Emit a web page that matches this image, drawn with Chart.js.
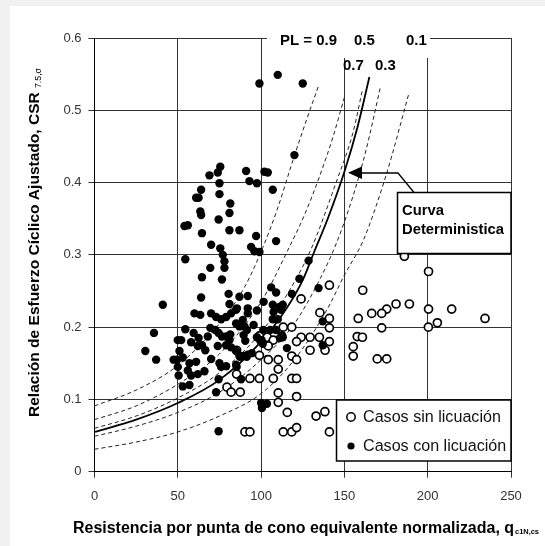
<!DOCTYPE html>
<html>
<head>
<meta charset="utf-8">
<script src="https://cdn.jsdelivr.net/npm/chart.js@4"></script>
<style>
  html, body { margin: 0; padding: 0; background: #f1f1f1; }
  #wrap { position: absolute; left: 0; top: 0; width: 545px; height: 546px; }
</style>
</head>
<body>
<div id="wrap"><canvas id="grafico" width="545" height="546"></canvas></div>
<script>
// ticks
const xTicks = [0, 50, 100, 150, 200, 250];
const yTicks = [0, 0.1, 0.2, 0.3, 0.4, 0.5, 0.6];

// casos con licuación (puntos negros) [q, CSR]
const casosCon = [
  [99,0.537],[110,0.549],[125,0.537],[120,0.438],
  [69,0.410],[74,0.414],[75.5,0.422],[91,0.416],[102,0.415],[104,0.414],
  [93,0.402],[97.5,0.399],[107,0.390],[75,0.399],[64,0.390],[61,0.379],[62.5,0.379],[75,0.384],[81.5,0.371],
  [63.5,0.360],[64,0.355],[81,0.358],[74.5,0.349],[54,0.340],[56,0.341],[81,0.334],[87,0.334],[64.5,0.330],
  [97,0.326],[109,0.319],[70,0.314],[94,0.311],[96,0.305],[99,0.304],[75.5,0.309],[77,0.300],[78,0.291],
  [54.5,0.294],[128.5,0.292],[69.5,0.282],[78,0.282],[76.5,0.266],[64.5,0.269],[123,0.267],[134.5,0.254],
  [106,0.255],[109,0.248],[118.5,0.246],[80.5,0.246],[92,0.243],[87,0.242],[64,0.241],[101.5,0.235],
  [41,0.231],[81,0.232],[107,0.231],[111,0.228],[113,0.231],[85.5,0.226],[92,0.226],[97.5,0.223],
  [107.5,0.221],[112,0.224],[60,0.219],[63.5,0.217],[70,0.219],[73,0.214],[76,0.211],[79,0.214],[82,0.219],
  [85,0.224],[92,0.219],[107,0.211],[110,0.211],[89,0.210],[90,0.201],[91.5,0.196],[137,0.208],
  [69.5,0.199],[72.5,0.196],[74.5,0.192],[76.5,0.187],[79,0.187],[81,0.182],[79,0.175],[85,0.205],[87,0.201],
  [95.5,0.203],[54.5,0.197],[35.7,0.192],[59.5,0.192],[62.5,0.185],[64.5,0.175],[66.5,0.168],[50,0.182],[52,0.182],
  [58,0.179],[62,0.174],[68,0.187],[81.5,0.190],[89.5,0.189],[90.5,0.181],[97.5,0.186],[99.5,0.181],[101,0.177],
  [105.5,0.196],[109,0.196],[112.5,0.189],[113,0.186],[115.5,0.171],[137,0.175],[30.5,0.167],[51,0.167],
  [74,0.174],[82,0.172],[85,0.167],[87,0.160],[89.5,0.160],[92,0.162],[47.5,0.155],[37,0.155],[49.5,0.155],
  [53,0.158],[57,0.150],[61,0.152],[70,0.156],[75,0.150],[76,0.145],[79,0.146],[85,0.148],[50,0.145],[50.5,0.133],
  [56,0.140],[58,0.133],[62,0.135],[66,0.139],[74.5,0.128],[88,0.128],[53,0.118],[57,0.120],[73,0.110],
  [87.3,0.159],[91.4,0.159],[94.4,0.164],[85.3,0.145],[101.3,0.196],[100.3,0.182],[111.3,0.185],
  [100,0.095],[103.5,0.094],[100.5,0.088],[74.5,0.056]
];

// casos sin licuación (círculos blancos)
const casosSin = [
  [186,0.298],[200.5,0.277],[161,0.251],[141,0.258],[124,0.239],[181,0.232],[189,0.232],[175.4,0.225],
  [172.4,0.219],[166.4,0.219],[158.3,0.212],[200.5,0.225],[214.4,0.225],[234.4,0.212],[205.8,0.206],
  [200.4,0.200],[172.4,0.199],
  [135.3,0.220],[141,0.212],[141,0.199],[113.3,0.200],[118.4,0.200],[124,0.186],[129.4,0.186],[135,0.186],
  [141,0.180],[121.3,0.180],
  [157.7,0.187],[160.8,0.186],[155.3,0.173],[155.3,0.160],[169.7,0.156],[175.4,0.156],
  [129.4,0.168],[138.4,0.168],[99,0.188],[103.7,0.186],[107.3,0.182],[104.3,0.174],[85.3,0.168],[99,0.161],
  [104.3,0.155],[110.3,0.155],[118.4,0.160],[121.3,0.155],[110.3,0.142],[85.3,0.135],[93.3,0.129],[99,0.129],
  [107.3,0.129],[118.4,0.129],[121.3,0.129],[79.5,0.117],[82,0.110],[87.5,0.110],[110.3,0.109],[110.3,0.096],
  [121.3,0.104],[115.7,0.082],[133,0.077],[138.3,0.083],[90.3,0.055],[93.3,0.055],[113.3,0.055],
  [118.4,0.055],[121.3,0.061],[141,0.055]
];

// curvas
const curvaDet = [[0,0.055],[25,0.072],[50,0.095],[75,0.127],[100,0.18],[115,0.225],[125,0.265],[132,0.305],[140,0.35],[150,0.415],[158,0.478],[165,0.546]];
const pl09 = [[0,0.091],[25,0.113],[50,0.147],[75,0.205],[90,0.255],[101,0.31],[110,0.365],[119,0.43],[127,0.485],[134.5,0.534]];
const pl07 = [[0,0.072],[25,0.091],[50,0.121],[75,0.163],[100,0.235],[117,0.311],[126,0.355],[135,0.408],[143,0.462],[150,0.518]];
const pl05 = [[0,0.060],[25,0.077],[50,0.102],[75,0.137],[100,0.193],[115,0.243],[130,0.308],[145,0.40],[155,0.468],[161,0.53]];
const pl03 = [[0,0.049],[25,0.063],[50,0.082],[75,0.11],[100,0.155],[120,0.205],[135,0.265],[145,0.315],[155,0.38],[163,0.445],[171.7,0.533]];
const pl01 = [[0,0.031],[25,0.041],[50,0.055],[75,0.077],[100,0.108],[120,0.155],[139.5,0.224],[150,0.272],[161.5,0.321],[175,0.41],[188.8,0.524]];

const FONT = "'Liberation Sans', Arial, sans-serif";
const toPts = arr => arr.map(p => ({ x: p[0], y: p[1] }));

function dashed(arr) {
  return {
    data: toPts(arr), showLine: true, pointRadius: 0, borderColor: '#222', borderWidth: 1,
    borderDash: [4, 3], cubicInterpolationMode: 'monotone', fill: false, order: 3
  };
}

// tamaño de letra para que el texto ocupe un ancho dado
function fitFont(c, text, width, weight) {
  c.font = weight + ' 100px ' + FONT;
  const size = 100 * width / c.measureText(text).width;
  c.font = weight + ' ' + size.toFixed(2) + 'px ' + FONT;
  return size;
}

const decor = {
  id: 'decor',
  beforeDraw(chart) {
    const c = chart.ctx;
    c.save();
    c.fillStyle = '#f1f1f1';
    c.fillRect(0, 0, 545, 546);
    c.fillStyle = '#fff';
    c.fillRect(10, 6, 535, 540);
    c.restore();
  },
  afterDraw(chart) {
    const c = chart.ctx;
    c.save();
    // hueco del marco superior para las etiquetas PL
    c.fillStyle = '#fff';
    c.fillRect(267, 28, 163, 30);
    c.fillStyle = '#000';
    c.textBaseline = 'middle';
    c.textAlign = 'left';
    fitFont(c, 'PL = 0.9', 57, 'bold');
    c.fillText('PL = 0.9', 280, 41);
    c.fillText('0.5', 354, 41);
    c.fillText('0.1', 406, 41);
    c.fillText('0.7', 343, 66);
    c.fillText('0.3', 375, 66);

    // caja "Curva Deterministica"
    c.fillStyle = '#fff';
    c.fillRect(397.5, 192.5, 113.5, 61);
    c.strokeStyle = '#000';
    c.lineWidth = 1.5;
    c.strokeRect(397.5, 192.5, 113.5, 61);
    c.fillStyle = '#000';
    fitFont(c, 'Deterministica', 102, 'bold');
    c.fillText('Curva', 402, 211);
    c.fillText('Deterministica', 402, 230);

    // flecha
    c.lineWidth = 1.3;
    c.beginPath();
    c.moveTo(414, 192.5);
    c.lineTo(398, 173);
    c.lineTo(360, 173);
    c.stroke();
    c.beginPath();
    c.moveTo(348, 172.8);
    c.lineTo(362, 166.5);
    c.lineTo(362, 179);
    c.closePath();
    c.fill();

    // leyenda
    c.fillStyle = '#fff';
    c.fillRect(336.5, 400, 174.5, 61);
    c.lineWidth = 1.5;
    c.strokeRect(336.5, 400, 174.5, 61);
    c.beginPath();
    c.arc(351, 417, 4.2, 0, Math.PI * 2);
    c.lineWidth = 1.5;
    c.stroke();
    c.fillStyle = '#000';
    c.beginPath();
    c.arc(351, 446, 3.6, 0, Math.PI * 2);
    c.fill();
    c.fillStyle = '#111';
    fitFont(c, 'Casos sin licuación', 138, 'normal');
    c.fillText('Casos sin licuación', 363, 418);
    c.fillText('Casos con licuación', 363, 447);

    // título eje x con subíndice
    c.fillStyle = '#000';
    const tx = 'Resistencia por punta de cono equivalente normalizada, q';
    fitFont(c, tx, 441, 'bold');
    c.fillText(tx, 73, 529);
    fitFont(c, 'c1N,cs', 24, 'bold');
    c.fillText('c1N,cs', 73 + 441 + 1, 532);

    // título eje y con subíndice
    c.translate(35, 417);
    c.rotate(-Math.PI / 2);
    const ty = 'Relación de Esfuerzo Cíclico Ajustado, CSR';
    fitFont(c, ty, 325, 'bold');
    c.fillText(ty, 0, 0);
    fitFont(c, '7.5,σ', 20, 'normal');
    c.fillText('7.5,σ', 329, 4);
    c.restore();
  }
};

const ctx = document.getElementById('grafico').getContext('2d');
new Chart(ctx, {
  type: 'scatter',
  data: {
    datasets: [
      dashed(pl09), dashed(pl07), dashed(pl05), dashed(pl03), dashed(pl01),
      {
        data: toPts(curvaDet), showLine: true, pointRadius: 0, borderColor: '#000', borderWidth: 1.8,
        cubicInterpolationMode: 'monotone', fill: false, order: 3
      },
      {
        label: 'Casos sin licuación', data: toPts(casosSin), pointRadius: 4, pointBorderWidth: 1.7,
        pointBackgroundColor: '#fff', pointBorderColor: '#000', order: 2
      },
      {
        label: 'Casos con licuación', data: toPts(casosCon), pointRadius: 4.2, pointBorderWidth: 0,
        pointBackgroundColor: '#000', pointBorderColor: '#000', order: 1
      }
    ]
  },
  options: {
    responsive: false,
    animation: false,
    events: [],
    layout: { padding: { left: 0, right: 34, top: 38, bottom: 0 } },
    plugins: { legend: { display: false }, tooltip: { enabled: false } },
    scales: {
      x: {
        type: 'linear', min: xTicks[0], max: xTicks[xTicks.length - 1],
        afterBuildTicks: s => { s.ticks = xTicks.map(v => ({ value: v })); },
        afterFit: s => { s.height = 74.3; },
        ticks: { color: '#333', font: { size: 13, family: FONT }, padding: 11 },
        grid: { color: '#333', lineWidth: 1, tickLength: 6 },
        border: { color: '#000', width: 1 }
      },
      y: {
        min: yTicks[0], max: yTicks[yTicks.length - 1],
        afterBuildTicks: s => { s.ticks = yTicks.map(v => ({ value: v })); },
        afterFit: s => { s.width = 94.5; },
        ticks: { color: '#333', font: { size: 13, family: FONT }, padding: 7, callback: v => String(+v.toFixed(1)) },
        grid: { color: '#333', lineWidth: 1, tickLength: 6 },
        border: { color: '#000', width: 1 }
      }
    }
  },
  plugins: [decor]
});
</script>
</body>
</html>
